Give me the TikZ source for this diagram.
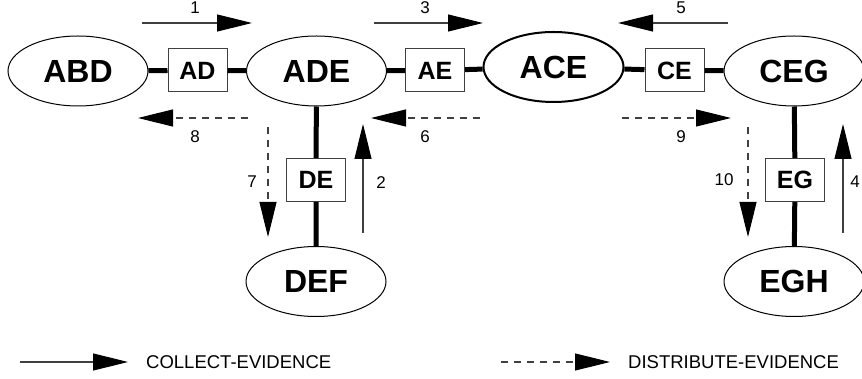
\documentclass[tikz,border=0pt]{standalone}
\usepackage{fontspec}
\setmainfont{Liberation Sans}
\usetikzlibrary{shapes.geometric,arrows.meta}

\tikzset{
  clique/.style={ellipse,draw,line width=1pt,minimum width=140pt,minimum height=70pt,inner sep=0pt,font=\fontsize{32}{32}\selectfont\bfseries},
  sepset/.style={rectangle,draw=black!75,line width=1pt,minimum width=59pt,minimum height=43pt,inner sep=0pt,font=\fontsize{25}{25}\selectfont\bfseries},
  link/.style={line width=5pt},
  collect/.style={draw=black!75,line width=1.1pt,-{Triangle[length=35pt,width=17pt,color=black,fill=black]}},
  distribute/.style={collect,dash pattern=on 7pt off 6pt},
  num/.style={font=\fontsize{17}{17}\selectfont,inner sep=0pt},
  legend/.style={font=\fontsize{18.5}{18.5}\selectfont,inner sep=0pt,anchor=west}
}

\begin{document}
\begin{tikzpicture}[x=1pt,y=-1pt]
                \useasboundingbox (0,0) rectangle (862,379);
                % cliques
                \node[clique] (ABD) at (78,71) {ABD};
                \node[clique] (ADE) at (316.5,71) {ADE};
                \node[clique,line width=2pt] (ACE) at (553.5,67) {ACE};
                \node[clique] (CEG) at (794,71) {CEG};
                \node[clique] (DEF) at (316,281.5) {DEF};
                \node[clique] (EGH) at (794,281.5) {EGH};
                % separators
                \node[sepset] (AD) at (197.5,70.5) {AD};
                \node[sepset] (AE) at (435,70.5) {AE};
                \node[sepset] (CE) at (674.5,70.5) {CE};
                \node[sepset] (DE) at (316,180) {DE};
                \node[sepset] (EG) at (795,180) {EG};

                \draw[link] (ABD) -- (AD) -- (ADE) -- (AE) -- (ACE) -- (CE) -- (CEG);
                \draw[link] (ADE) -- (DE) -- (DEF);
                \draw[link] (CEG) -- (EG) -- (EGH);

                % message passing
                \coordinate (s1) at (142,23);  \coordinate (t1) at (252,23);
                \coordinate (s2) at (363,233); \coordinate (t2) at (363,124);
                \coordinate (s3) at (374,23);  \coordinate (t3) at (483,23);
                \coordinate (s4) at (843,233); \coordinate (t4) at (843,124);
                \coordinate (s5) at (728,23);  \coordinate (t5) at (618,23);
                \coordinate (s6) at (480,118); \coordinate (t6) at (371,118);
                \coordinate (s7) at (268,127); \coordinate (t7) at (268,237);
                \coordinate (s8) at (248,118); \coordinate (t8) at (138,118);
                \coordinate (s9) at (622,118); \coordinate (t9) at (731,118);
                \coordinate (s10) at (748,127); \coordinate (t10) at (748,237);

                \draw[collect] (s1) -- (t1);
                \draw[collect] (s2) -- (t2);
                \draw[collect] (s3) -- (t3);
                \draw[collect] (s4) -- (t4);
                \draw[collect] (s5) -- (t5);
                \draw[distribute] (s6) -- (t6);
                \draw[distribute] (s7) -- (t7);
                \draw[distribute] (s8) -- (t8);
                \draw[distribute] (s9) -- (t9);
                \draw[distribute] (s10) -- (t10);

                \node[num] (n1) at (195,7.5) {1};
                \node[num] (n2) at (381,183) {2};
                \node[num] (n3) at (425,7.5) {3};
                \node[num] (n4) at (855,182) {4};
                \node[num] (n5) at (681,7.5) {5};
                \node[num] (n6) at (425,137) {6};
                \node[num] (n7) at (252,182) {7};
                \node[num] (n8) at (195,137) {8};
                \node[num] (n9) at (681,137) {9};
                \node[num] (n10) at (724,180) {10};

                % legend
                \coordinate (ls1) at (20,362);  \coordinate (lt1) at (128,362);
                \coordinate (ls2) at (501,362); \coordinate (lt2) at (610,362);
                \draw[collect] (ls1) -- (lt1);
                \draw[distribute] (ls2) -- (lt2);
                \node[legend] (collectlbl) at (146,362) {COLLECT-EVIDENCE};
                \node[legend] (distributelbl) at (628,362) {DISTRIBUTE-EVIDENCE};
            \end{tikzpicture}
\end{document}
